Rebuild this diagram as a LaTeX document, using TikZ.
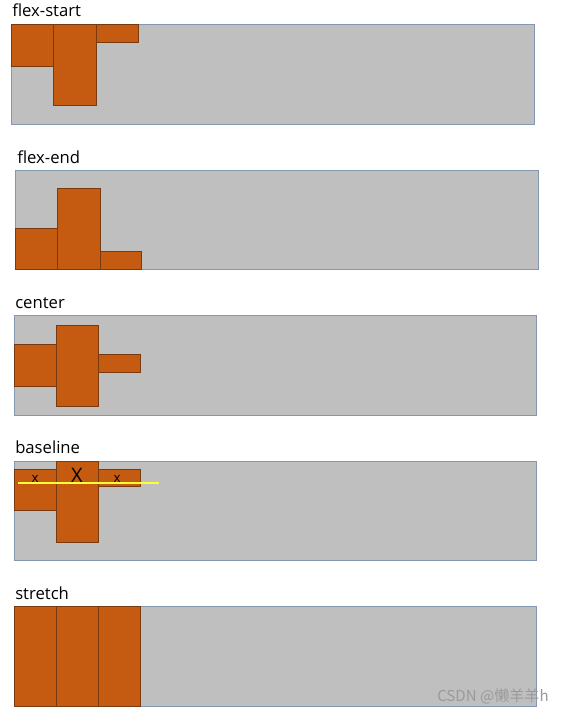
\documentclass[tikz,border=0pt]{standalone}
\usepackage{fontspec}
\setmainfont{Open Sans}
\newfontfamily\cjkfont{Noto Sans CJK SC}
\usepackage{xcolor}
\usepackage{tikz}
\usetikzlibrary{
  positioning,
  calc
}
\definecolor{fxBox}{HTML}{BFBFBF}
\definecolor{fxEdge}{HTML}{8497B0}
\definecolor{fxItem}{HTML}{C55A11}
\definecolor{fxItemEdge}{HTML}{7A3A10}
\definecolor{fxBase}{HTML}{FFFF33}
\definecolor{fxMark}{HTML}{9A9A9A}
\tikzset{
  flexbox/.style={draw=fxEdge, fill=fxBox, line width=0.6pt},
  flexitem/.style={draw=fxItemEdge, fill=fxItem, line width=0.6pt},
  caption/.style={font=\fontsize{12.5}{14}\selectfont, anchor=base west, inner sep=0pt},
  glyph/.style={font=\fontsize{10}{12}\selectfont, anchor=base, inner sep=0pt},
  bigglyph/.style={font=\fontsize{15}{17}\selectfont, anchor=base, inner sep=0pt},
  baseline/.style={draw=fxBase, line width=1.1pt},
  watermark/.style={font=\cjkfont\fontsize{11.3}{13}\selectfont, text=fxMark, anchor=base west, inner sep=0pt}
}

\begin{document}
\begin{tikzpicture}[x=0.75pt, y=-0.75pt]
  \useasboundingbox (0,0) rectangle (568,713);

  % flex-start
  \node[caption] (t1) at (12,17) {flex-start};
  \draw[flexbox] (11,24) rectangle (534,124);
  \draw[flexitem] (11,24) rectangle (53.5,66);
  \draw[flexitem] (53.5,24) rectangle (96,105.5);
  \draw[flexitem] (96,24) rectangle (138,42);

  % flex-end
  \node[caption] (t2) at (17,163) {flex-end};
  \draw[flexbox] (15,170) rectangle (538,269);
  \draw[flexitem] (15,228) rectangle (57.5,269);
  \draw[flexitem] (57.5,188) rectangle (100,269);
  \draw[flexitem] (100,251.5) rectangle (141.5,269);

  % center
  \node[caption] (t3) at (15,308) {center};
  \draw[flexbox] (14,315.5) rectangle (536,415);
  \draw[flexitem] (14,344.5) rectangle (56,386.5);
  \draw[flexitem] (56,325) rectangle (98,406);
  \draw[flexitem] (98,354) rectangle (140,372);

  % baseline
  \node[caption] (t4) at (15,453) {baseline};
  \draw[flexbox] (14,461) rectangle (536,560);
  \draw[flexitem] (14,469) rectangle (56,510.5);
  \draw[flexitem] (56,461) rectangle (98.5,542);
  \draw[flexitem] (98.5,469) rectangle (140.5,486.5);
  \node[glyph] (x1) at (35,482) {x};
  \node[bigglyph] (x2) at (77,482) {X};
  \node[glyph] (x3) at (117,482) {x};
  \coordinate (b1) at (18,483);
  \coordinate (b2) at (158.5,483);
  \draw[baseline] (b1) -- (b2);

  % stretch
  \node[caption] (t5) at (15,599) {stretch};
  \draw[flexbox] (14,606) rectangle (536,706);
  \draw[flexitem] (14,606) rectangle (56,706);
  \draw[flexitem] (56,606) rectangle (98.5,706);
  \draw[flexitem] (98.5,606) rectangle (140.5,706);

  \node[watermark] (wm) at (437,701) {CSDN @懒羊羊h};
\end{tikzpicture}
\end{document}
